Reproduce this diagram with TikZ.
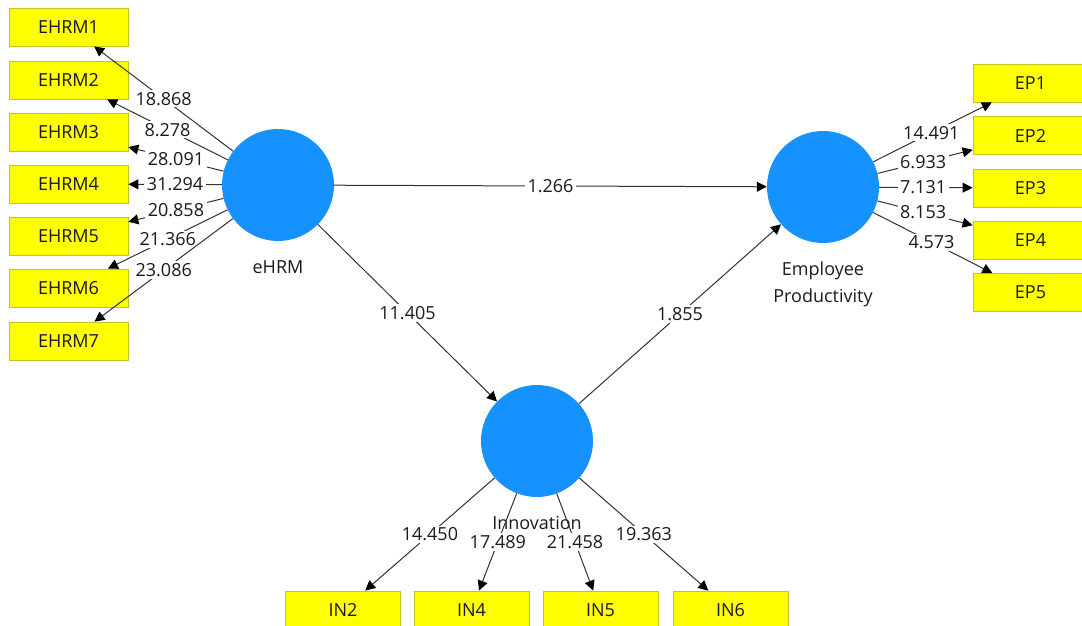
\documentclass[tikz,border=0pt]{standalone}
\usepackage{fontspec}
\setmainfont{Open Sans}
\usetikzlibrary{arrows.meta,calc}

\definecolor{latentblue}{RGB}{22,146,255}
\definecolor{itemyellow}{RGB}{255,255,0}
\definecolor{itemedge}{RGB}{196,196,40}
\definecolor{linkgray}{RGB}{50,50,50}
\definecolor{txt}{RGB}{25,25,35}

\tikzset{
  latent/.style={circle, fill=latentblue, draw=none, minimum size=112pt, inner sep=0pt},
  item/.style={rectangle, fill=itemyellow, draw=itemedge, line width=0.8pt,
               minimum height=38pt, inner sep=0pt, text=txt,
               font=\fontsize{18}{21}\selectfont},
  leftitem/.style={item, minimum width=119pt},
  rightitem/.style={item, minimum width=115pt},
  link/.style={draw=linkgray, line width=1pt,
               -{Triangle[length=10pt,width=10pt,fill=black,color=black]}},
  coef/.style={fill=white, inner xsep=2.5pt, inner ysep=2pt, text=txt,
               font=\fontsize{18}{21}\selectfont},
  lvname/.style={text=txt, align=center, font=\fontsize{18}{27}\selectfont}
}

\begin{document}
\begin{tikzpicture}[x=1pt, y=-1pt]
  \useasboundingbox (0,0) rectangle (1082,626);
  \clip (0,0) rectangle (1082,626);

  % latent variables
  \node[latent] (ehrm) at (278,185) {};
  \node[latent] (prod) at (823,187) {};
  \node[latent] (inno) at (537,441) {};

  % eHRM indicators
  \node[leftitem] (e1) at (68.5,27)  {EHRM1};
  \node[leftitem] (e2) at (68.5,80)  {EHRM2};
  \node[leftitem] (e3) at (68.5,132) {EHRM3};
  \node[leftitem] (e4) at (68.5,184) {EHRM4};
  \node[leftitem] (e5) at (68.5,236.5) {EHRM5};
  \node[leftitem] (e6) at (68.5,288) {EHRM6};
  \node[leftitem] (e7) at (68.5,341) {EHRM7};

  % productivity indicators
  \node[rightitem] (p1) at (1030.5,83)    {EP1};
  \node[rightitem] (p2) at (1030.5,135.5) {EP2};
  \node[rightitem] (p3) at (1030.5,188)   {EP3};
  \node[rightitem] (p4) at (1030.5,240)   {EP4};
  \node[rightitem] (p5) at (1030.5,292.5) {EP5};

  % innovation indicators
  \node[rightitem] (i2) at (343,610)   {IN2};
  \node[rightitem] (i4) at (471.5,610) {IN4};
  \node[rightitem] (i5) at (600.5,610) {IN5};
  \node[rightitem] (i6) at (730.5,610) {IN6};

  % names of the latent variables
  \node[lvname] (ehrmname) at ($(ehrm)+(0,82)$) {eHRM};
  \node[lvname] (prodname) at ($(prod)+(0,97)$) {Employee\\Productivity};
  \node[lvname] (innoname) at ($(inno)+(0,82)$) {Innovation};

  % outer loadings of eHRM
  \draw[link] (ehrm) -- node[coef] {18.868} (e1);
  \draw[link] (ehrm) -- node[coef] {8.278}  (e2);
  \draw[link] (ehrm) -- node[coef] {28.091} (e3);
  \draw[link] (ehrm) -- node[coef] {31.294} (e4);
  \draw[link] (ehrm) -- node[coef] {20.858} (e5);
  \draw[link] (ehrm) -- node[coef] {21.366} (e6);
  \draw[link] (ehrm) -- node[coef] {23.086} (e7);

  % outer loadings of Employee Productivity
  \draw[link] (prod) -- node[coef, pos=0.49] {14.491} (p1);
  \draw[link] (prod) -- node[coef, pos=0.48] {6.933}  (p2);
  \draw[link] (prod) -- node[coef, pos=0.47] {7.131}  (p3);
  \draw[link] (prod) -- node[coef, pos=0.48] {8.153}  (p4);
  \draw[link] (prod) -- node[coef, pos=0.49] {4.573}  (p5);

  % outer loadings of Innovation
  \draw[link] (inno) -- node[coef] {14.450} (i2);
  \draw[link] (inno) -- node[coef] {17.489} (i4);
  \draw[link] (inno) -- node[coef] {21.458} (i5);
  \draw[link] (inno) -- node[coef] {19.363} (i6);

  % structural paths
  \draw[link] (ehrm) -- node[coef] {1.266}  (prod);
  \draw[link] (ehrm) -- node[coef] {11.405} (inno);
  \draw[link] (inno) -- node[coef] {1.855}  (prod);
\end{tikzpicture}
\end{document}
